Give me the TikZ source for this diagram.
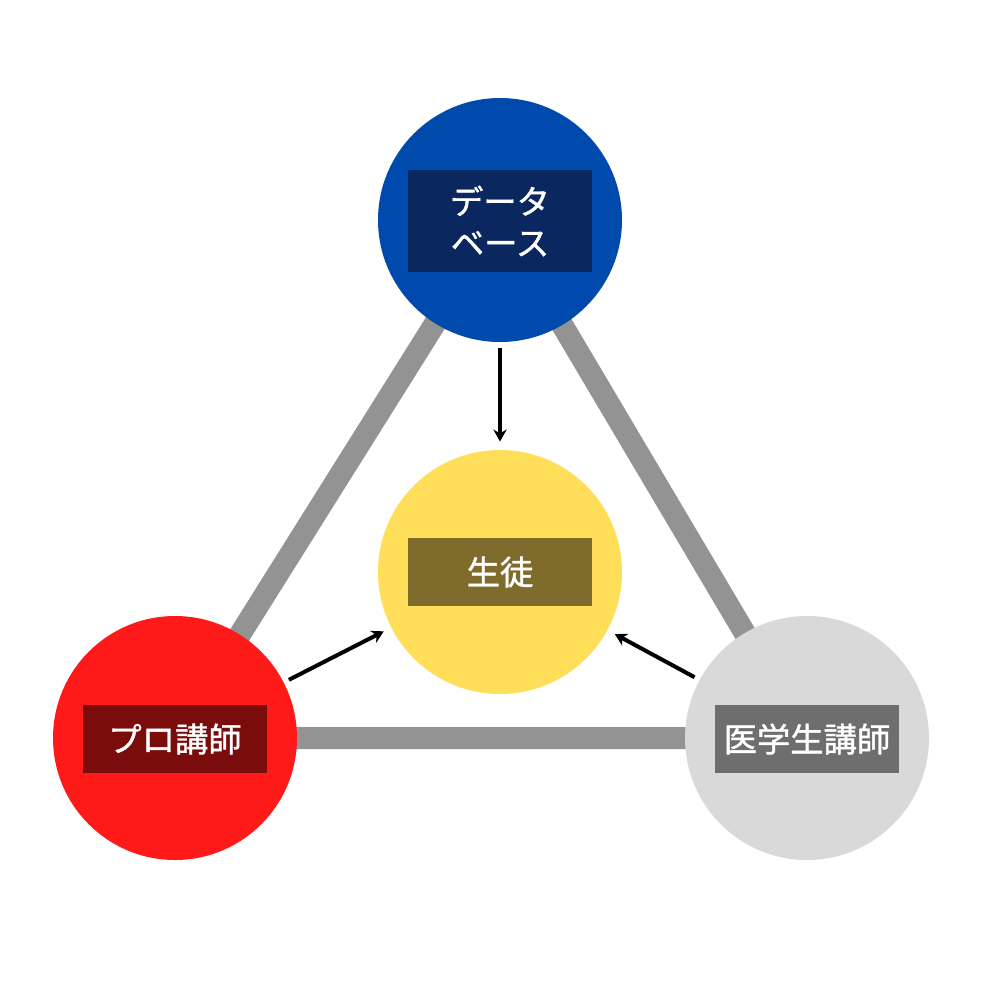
\documentclass[tikz,border=0pt]{standalone}
\usepackage{fontspec}
\usetikzlibrary{arrows.meta}
\newfontfamily\jpfont[FakeBold=1.2]{Noto Sans CJK JP}
\definecolor{dbblue}{HTML}{004AAD}
\definecolor{dbbox}{HTML}{0B2760}
\definecolor{styellow}{HTML}{FFDE59}
\definecolor{stbox}{HTML}{7F6B2B}
\definecolor{prored}{HTML}{FF1A1A}
\definecolor{probox}{HTML}{7A0C0C}
\definecolor{medgray}{HTML}{D9D9D9}
\definecolor{medbox}{HTML}{6E6E6E}
\definecolor{linkgray}{HTML}{939393}
\tikzset{every picture/.style={line width=0.75pt}}
\begin{document}
\begin{tikzpicture}[x=0.75pt,y=0.75pt,yscale=-1,xscale=1,
  ball/.style={circle,minimum size=183pt,inner sep=0pt},
  tag/.style={minimum width=138pt,inner sep=0pt,text=white,font=\jpfont\fontsize{25}{31}\selectfont,align=center},
  link/.style={draw=linkgray,line width=16.5pt},
  pointer/.style={-{Stealth[length=9pt,width=10pt]},line width=3pt,shorten <=4pt,shorten >=6pt}]
\useasboundingbox (0,0) rectangle (1000,1000);

%Centres
\coordinate (dbc) at (500,220);
\coordinate (proc) at (175,738);
\coordinate (medc) at (807,738);

%Links behind the circles
\draw[link] (dbc) -- (proc) -- (medc) -- cycle;

%Circles
\node[ball,fill=dbblue] (db) at (dbc) {};
\node[ball,fill=styellow] (st) at (500,572) {};
\node[ball,fill=prored] (pro) at (proc) {};
\node[ball,fill=medgray] (med) at (medc) {};

%Labels
\node[tag,fill=dbbox,minimum height=77pt] (dbtag) at (500,221) {データ\\ベース};
\node[tag,fill=stbox,minimum height=51pt] (sttag) at (500,572) {生徒};
\node[tag,fill=probox,minimum height=51pt] (protag) at (175,739) {プロ講師};
\node[tag,fill=medbox,minimum height=51pt] (medtag) at (807,739) {医学生講師};

%Arrows
\draw[pointer] (db.south) -- (st.north);
\draw[pointer] (pro) -- (st);
\draw[pointer] (med) -- (st);
\end{tikzpicture}
\end{document}
